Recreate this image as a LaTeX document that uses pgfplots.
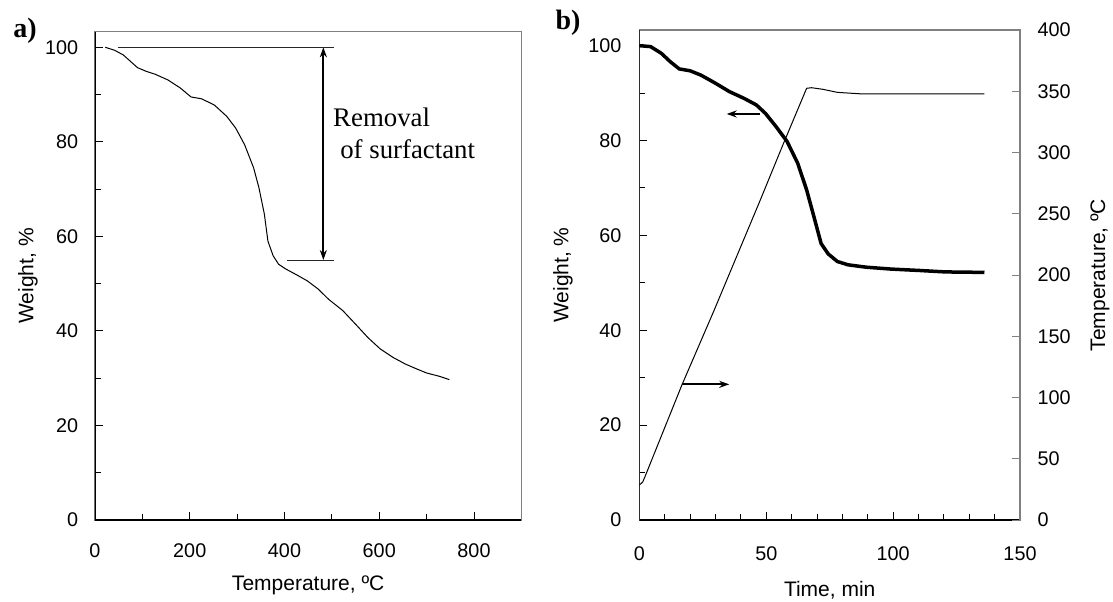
\documentclass[border=0pt]{standalone}
\usepackage{fontspec}
\setmainfont{Liberation Sans}
\newfontfamily\timesfont{Liberation Serif}
\usepackage{pgfplots}
\pgfplotsset{compat=1.18}
\usetikzlibrary{arrows.meta}

% weight loss vs temperature (panel a)
\pgfplotstableread{
T W
21.7 100
40.7 99.4
59.5 98.4
89.7 95.7
108.5 94.9
127 94.3
153.8 93.1
180 91.4
202.7 89.5
225 89.1
251.8 87.8
278 85.4
297 82.9
315.8 79.4
334.8 74.5
346 70.3
357.5 64.7
365 59.0
376 55.9
387.6 54.1
402.7 53.1
425 51.9
448 50.6
470.6 48.9
493 46.7
523 44.3
553 41.1
576 38.6
602 36.2
629 34.4
655 33.0
678 32.0
700 31.1
727 30.4
748 29.7
}\tgaA

% weight vs time (panel b)
\pgfplotstableread{
t W
0 100
4.4 99.8
8.6 98.4
12.2 96.6
15.7 95.1
20 94.7
24.2 93.8
29.9 92.1
35.5 90.3
41.2 88.9
46.1 87.5
49.7 85.7
53.9 82.9
58.2 79.8
62.4 75.2
65.9 69.6
68.8 63.9
71.6 58.3
74.4 56.1
78 54.5
82.2 53.8
89.3 53.3
99.2 52.9
110.5 52.6
120.5 52.3
136 52.2
}\tgaB

% oven temperature vs time (panel b, right axis)
\pgfplotstableread{
t T
0 28.6
1.3 31
2.2 35.4
16.7 110
29.2 170
47.6 261
56.7 307
65.9 352.4
67.8 352.9
72.3 351.6
78 349.1
87.9 347.8
106.3 347.8
136 347.8
}\tempB

\pgfplotsset{
  tgbase/.style={
    scale only axis,
    anchor=south west,
    tick align=inside,
    major tick length=4pt,
    minor tick length=3pt,
    axis line style={gray, line width=0.6pt},
    every tick/.style={black, line width=0.5pt},
    /pgf/number format/assume math mode=true,
    tick label style={font=\fontsize{9.9}{11}\selectfont},
    label style={font=\fontsize{10.5}{12}\selectfont},
    xticklabel style={anchor=center},
    yticklabel style={anchor=east},
  },
}

\begin{document}
\begin{tikzpicture}
\path[use as bounding box] (0,0) rectangle (556.5pt,300.5pt);

% ---------- a) ----------
\begin{axis}[tgbase,
  at={(47.5pt,40.5pt)}, width=213.2pt, height=244.15pt,
  xmin=0, xmax=900, ymin=0, ymax=103.3,
  xtick={0,200,...,800}, minor x tick num=1,
  ytick={0,20,...,100}, minor y tick num=1,
  tick pos=left,
  xticklabel style={yshift=-15.5pt},
  yticklabel style={xshift=-4.9pt},
  xlabel={Temperature, ºC},
  ylabel={Weight, \%},
  xlabel style={at={(axis description cs:0.5,-0.133)}, anchor=center},
  ylabel style={at={(axis description cs:-0.157,0.5)}, anchor=center},
]
\addplot[black, line width=0.5pt] table[x=T, y=W] {\tgaA};
\draw[black, line width=0.6pt] (rel axis cs:0,1) -- (rel axis cs:0,0) -- (rel axis cs:1,0);
\draw[black!85, line width=0.5pt] (axis cs:48,100) -- (axis cs:504.5,100);
\draw[black!85, line width=0.5pt] (axis cs:406,55) -- (axis cs:504.5,55);
\draw[black, line width=1pt, {Stealth[length=5pt,width=3.5pt]}-{Stealth[length=5pt,width=3.5pt]}]
  (axis cs:482,100) -- (axis cs:482,55);
\node[anchor=base west, inner sep=0pt, font=\timesfont\fontsize{13.4}{15}\selectfont] at (axis cs:502,83.3) {Removal};
\node[anchor=base west, inner sep=0pt, font=\timesfont\fontsize{13.4}{15}\selectfont] at (axis cs:517,76.4) {of surfactant};
\end{axis}
\node[font=\timesfont\bfseries\fontsize{14}{16}\selectfont, inner sep=0pt] at (12.5pt,285pt) {a)};

% ---------- b) ----------
\begin{axis}[tgbase,
  at={(319.7pt,40.5pt)}, width=190.3pt, height=245pt,
  xmin=0, xmax=150, ymin=0, ymax=103.3,
  xtick={0,50,100,150}, minor x tick num=4,
  ytick={0,20,...,100}, minor y tick num=1,
  tick pos=left,
  xticklabel style={yshift=-17pt},
  yticklabel style={xshift=-5.5pt},
  xlabel={Time, min},
  ylabel={Weight, \%},
  xlabel style={at={(axis description cs:0.5,-0.143)}, anchor=center},
  ylabel style={at={(axis description cs:-0.2007,0.5)}, anchor=center},
]
\addplot[black, line width=1.75pt] table[x=t, y=W] {\tgaB};
\draw[black, line width=0.6pt] (rel axis cs:0,1) -- (rel axis cs:0,0) -- (rel axis cs:1,0);
\draw[black, line width=1pt, -{Stealth[length=5pt,width=3.5pt]}] (axis cs:47.5,85.6) -- (axis cs:34.4,85.6);
\draw[black, line width=1pt, -{Stealth[length=5pt,width=3.5pt]}] (axis cs:16.7,28.6) -- (axis cs:35.4,28.6);
\end{axis}
\begin{axis}[tgbase,
  at={(319.7pt,40.5pt)}, width=190.3pt, height=245pt,
  xmin=0, xmax=150, ymin=0, ymax=400,
  axis x line=none, axis y line*=right,
  ytick={0,50,...,400},
  every tick/.style={gray, line width=0.5pt},
  yticklabel style={anchor=west, xshift=5.3pt},
  ylabel={Temperature, ºC},
  ylabel style={at={(axis description cs:1.21,0.5)}, anchor=center, rotate=0},
]
\addplot[black, line width=0.5pt] table[x=t, y=T] {\tempB};
\end{axis}
\node[font=\timesfont\bfseries\fontsize{14}{16}\selectfont, inner sep=0pt] at (284pt,289pt) {b)};
\end{tikzpicture}
\end{document}
